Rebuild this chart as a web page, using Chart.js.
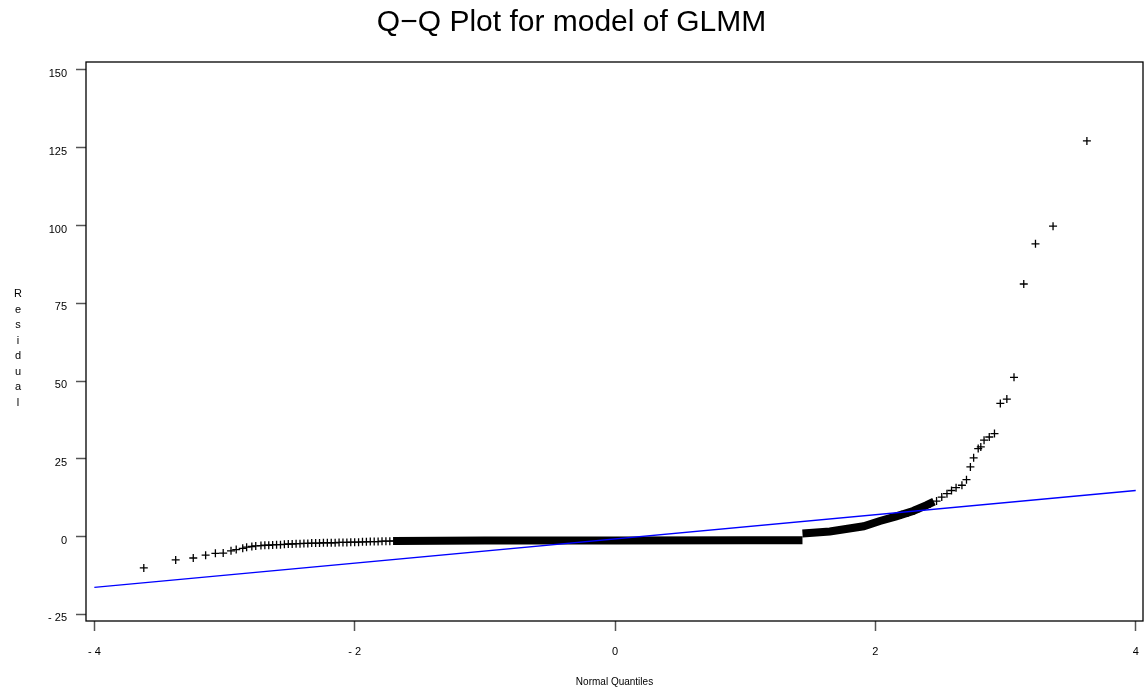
<!DOCTYPE html>
<html>
<head>
<meta charset="utf-8">
<script src="https://cdn.jsdelivr.net/npm/chart.js@4/dist/chart.umd.min.js"></script>
<style>
  html, body { margin: 0; padding: 0; background: #fff; }
  #wrap { width: 1145px; height: 690px; }
</style>
</head>
<body>
<div id="wrap"><canvas id="qq"></canvas></div>
<script>
// puntos sueltos (cruces)
const tailX = [-3.62, -3.375, -3.24, -3.145, -3.07, -3.01, -2.95, -2.91, -2.86, -2.83, -2.79, -2.76,
  -2.72, -2.69, -2.66, -2.63, -2.60, -2.57, -2.54, -2.51, -2.48, -2.45, -2.42, -2.39, -2.36, -2.33,
  -2.30, -2.27, -2.24, -2.21, -2.18, -2.15, -2.12, -2.09, -2.06, -2.03, -2.00, -1.97, -1.94, -1.91,
  -1.88, -1.85, -1.82, -1.79, -1.76, -1.73, -1.70,
  2.20, 2.25, 2.30, 2.34, 2.38, 2.42, 2.47, 2.51, 2.55, 2.585, 2.62, 2.665, 2.70, 2.73, 2.755,
  2.79, 2.81, 2.835, 2.875, 2.915, 2.96, 3.01, 3.065, 3.14, 3.23, 3.365, 3.625];
const tailY = [-10.1, -7.5, -6.9, -6.0, -5.4, -5.3, -4.6, -4.2, -3.8, -3.4, -3.2, -3.0,
  -2.9, -2.8, -2.8, -2.7, -2.6, -2.6, -2.5, -2.4, -2.4, -2.3, -2.3, -2.2, -2.2, -2.1,
  -2.1, -2.1, -2.0, -2.0, -2.0, -2.0, -1.9, -1.9, -1.9, -1.8, -1.8, -1.8, -1.7, -1.7,
  -1.6, -1.6, -1.6, -1.5, -1.5, -1.5, -1.4,
  7.0, 7.6, 8.4, 9.1, 9.8, 10.5, 11.4, 12.7, 13.8, 14.8, 15.7, 16.5, 18.3, 22.4, 25.3,
  28.3, 28.8, 31.0, 32.0, 33.1, 42.8, 44.2, 51.2, 81.2, 94.1, 99.8, 127.2];

// franja densa de residuos (null = salto)
const bandX = [-1.70, -1.00, 0.00, 1.00, 1.44, 1.44, 1.44, 1.65, 1.91, 2.035, 2.16, 2.29, 2.39, 2.45];
const bandY = [-1.4, -1.3, -1.25, -1.2, -1.2, null, 1.0, 1.6, 3.3, 5.0, 6.5, 8.2, 10.0, 11.2];

// recta de referencia
const fitX = [-4, 4];
const fitY = [-16.35, 14.8];

const xTicks = [-4, -2, 0, 2, 4];
const yTicks = [-25, 0, 25, 50, 75, 100, 125, 150];

const toPts = (xs, ys) => xs.map((x, i) => ({ x: x, y: ys[i] }));
const fmt = v => (v < 0 ? "- " + Math.abs(v) : String(v));

// marco y etiqueta vertical "Residual"
const marco = {
  id: "marco",
  afterDraw(chart) {
    const { ctx, chartArea: a } = chart;
    ctx.save();
    ctx.strokeStyle = "#000";
    ctx.lineWidth = 1.3;
    ctx.strokeRect(a.left, a.top, a.right - a.left, a.bottom - a.top);
    ctx.fillStyle = "#000";
    ctx.font = "11px 'Liberation Sans', Arial, sans-serif";
    ctx.textAlign = "center";
    ctx.textBaseline = "alphabetic";
    "Residual".split("").forEach((c, i) => ctx.fillText(c, 18, 297 + i * 15.5));
    ctx.restore();
  }
};

const tickFont = { family: "'Liberation Sans', Arial, sans-serif", size: 11 };

new Chart(document.getElementById("qq"), {
  type: "scatter",
  data: {
    datasets: [
      {
        label: "fit",
        data: toPts(fitX, fitY),
        showLine: true,
        borderColor: "#0000ff",
        borderWidth: 1.3,
        pointRadius: 0
      },
      {
        label: "band",
        data: toPts(bandX, bandY),
        showLine: true,
        spanGaps: false,
        borderColor: "#000",
        borderWidth: 8,
        borderCapStyle: "butt",
        pointRadius: 0
      },
      {
        label: "residuals",
        data: toPts(tailX, tailY),
        pointStyle: "cross",
        pointRadius: 4,
        borderColor: "#000",
        borderWidth: 1.3
      }
    ]
  },
  options: {
    responsive: true,
    maintainAspectRatio: false,
    animation: false,
    layout: { autoPadding: false, padding: { left: 0, right: 2, top: 0, bottom: 0 } },
    scales: {
      x: {
        type: "linear",
        min: -4.064,
        max: 4.056,
        afterBuildTicks: s => { s.ticks = xTicks.map(v => ({ value: v })); },
        afterFit: s => { s.height = 69; s.paddingLeft = 0; s.paddingRight = 0; },
        grid: { drawOnChartArea: false, drawTicks: true, tickLength: 10, tickColor: "#555", tickWidth: 1.5 },
        border: { display: false },
        ticks: { font: tickFont, color: "#000", padding: 14, maxRotation: 0, callback: v => fmt(v) },
        title: {
          display: true,
          text: "Normal Quantiles",
          font: { family: "'Liberation Sans', Arial, sans-serif", size: 10 },
          color: "#000",
          padding: { top: 0, bottom: 2 }
        }
      },
      y: {
        type: "linear",
        min: -27.15,
        max: 152.57,
        afterBuildTicks: s => { s.ticks = yTicks.map(v => ({ value: v })); },
        afterFit: s => { s.width = 86; s.paddingTop = 0; s.paddingBottom = 0; },
        grid: { drawOnChartArea: false, drawTicks: true, tickLength: 10, tickColor: "#555", tickWidth: 1.5 },
        border: { display: false },
        ticks: { font: tickFont, color: "#000", padding: 9, labelOffset: 4, callback: v => fmt(v) }
      }
    },
    plugins: {
      legend: { display: false },
      tooltip: { enabled: false },
      title: {
        display: true,
        text: "Q\u2212Q Plot for model of GLMM",
        font: { family: "'Liberation Sans', Arial, sans-serif", size: 30, weight: "normal" },
        color: "#000",
        padding: { top: 5, bottom: 21 }
      }
    }
  },
  plugins: [marco]
});
</script>
</body>
</html>
